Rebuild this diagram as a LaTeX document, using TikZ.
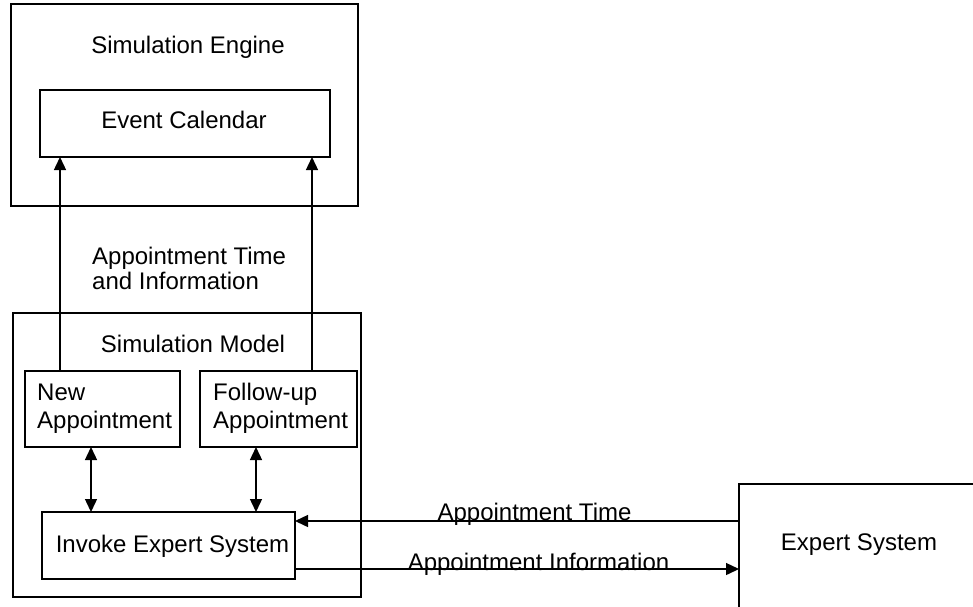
\documentclass[tikz,border=0pt]{standalone}
\usepackage{fontspec}
\setmainfont{Liberation Sans}
\usetikzlibrary{arrows.meta}
\begin{document}
\begin{tikzpicture}[x=1pt,y=-1pt,
  box/.style={draw,line width=1.7pt,inner sep=0pt,outer sep=0pt},
  txt/.style={anchor=base,inner sep=0pt,font=\fontsize{24}{29}\selectfont},
  ltxt/.style={txt,anchor=base west},
  link/.style={line width=1.4pt},
  tip/.style={-{Triangle[length=13pt,width=12pt]}},
  both/.style={{Triangle[length=13pt,width=12pt]}-{Triangle[length=13pt,width=12pt]}}
]
\useasboundingbox (0,0) rectangle (973,606);
\clip (0,0) rectangle (973,606);

% boxes
\node[box,minimum width=347pt,minimum height=202pt] (engine) at (184.5,105) {};
\node[box,minimum width=290pt,minimum height=67pt] (cal) at (185,123.5) {};
\node[box,minimum width=348pt,minimum height=284pt] (model) at (187,455) {};
\node[box,minimum width=155pt,minimum height=76pt] (newapp) at (102.5,409) {};
\node[box,minimum width=157pt,minimum height=76pt] (follow) at (278.5,409) {};
\node[box,minimum width=253pt,minimum height=67pt] (invoke) at (168.5,545.5) {};
\node[box,minimum width=261pt,minimum height=156pt] (expert) at (869.5,562) {};

% texts
\node[txt] (tengine) at (188,53) {Simulation Engine};
\node[txt] (tcal) at (184,128) {Event Calendar};
\node[ltxt] (tinfo1) at (92,264) {Appointment Time};
\node[ltxt] (tinfo2) at (92,289) {and Information};
\node[txt] (tmodel) at (193,352) {Simulation Model};
\node[ltxt] (tnew1) at (37,400) {New};
\node[ltxt] (tnew2) at (37,428) {Appointment};
\node[ltxt] (tfol1) at (213,400) {Follow-up};
\node[ltxt] (tfol2) at (213,428) {Appointment};
\node[txt] (tinvoke) at (172.5,552) {Invoke Expert System};
\node[txt] (texpert) at (859,550) {Expert System};
\node[txt] (ttime) at (534.5,520) {Appointment Time};
\node[txt] (tappinfo) at (538.5,570) {Appointment Information};

% connectors
\coordinate (u1) at ([xshift=35pt]newapp.north west);
\coordinate (u2) at ([xshift=112pt]follow.north west);
\draw[link,tip] (u1) -- (u1 |- cal.south);
\draw[link,tip] (u2) -- (u2 |- cal.south);

\coordinate (d1) at ([xshift=66pt]newapp.south west);
\coordinate (d2) at ([xshift=56pt]follow.south west);
\draw[link,both] (d1) -- (d1 |- invoke.north);
\draw[link,both] (d2) -- (d2 |- invoke.north);

\coordinate (t1) at ([yshift=-9pt]invoke.north east);
\coordinate (t2) at ([yshift=10pt]invoke.south east);
\draw[link,tip] (t1 -| expert.west) -- (t1);
\draw[link,tip] (t2) -- (t2 -| expert.west);
\end{tikzpicture}
\end{document}
